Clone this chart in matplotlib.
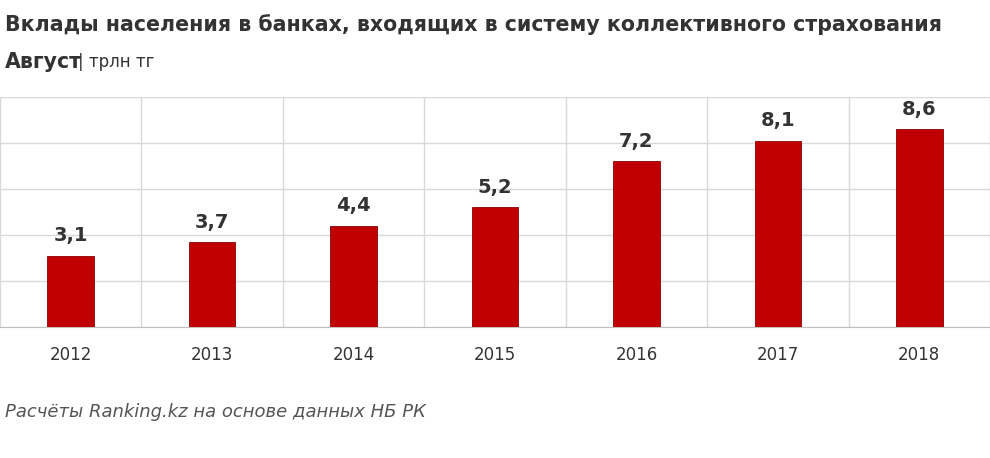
import matplotlib
matplotlib.use("Agg")
import matplotlib.pyplot as plt

years = ["2012", "2013", "2014", "2015", "2016", "2017", "2018"]
values = [3.1, 3.7, 4.4, 5.2, 7.2, 8.1, 8.6]
labels = ["3,1", "3,7", "4,4", "5,2", "7,2", "8,1", "8,6"]

fig = plt.figure(figsize=(9.9, 4.58), dpi=100)
ax = fig.add_axes([0.0, 1 - 327/458, 1.0, 230/458])
x = list(range(len(years)))
ax.bar(x, values, width=0.33, color="#C00000", edgecolor="#8B0000", linewidth=0.6, zorder=3)
for xi, v, l in zip(x, values, labels):
    ax.text(xi, v + 0.45, l, ha="center", va="bottom", fontsize=14, fontweight="bold", color="#333333")
ax.set_xlim(-0.5, len(years) - 0.5)
ax.set_ylim(0, 10)
ax.set_yticks([0, 2, 4, 6, 8, 10])
ax.set_yticklabels([])
ax.tick_params(axis="y", length=0)
ax.set_xticks(x)
ax.set_xticklabels(years, fontsize=12, color="#333333")
ax.tick_params(axis="x", length=0, pad=14)
ax.set_xticks([i + 0.5 for i in range(-1, len(years))], minor=True)
ax.tick_params(axis="x", which="minor", length=0)
ax.grid(axis="y", color="#D9D9D9", linewidth=1, zorder=0)
ax.grid(axis="x", which="minor", color="#D9D9D9", linewidth=1, zorder=0)
for s in ["top", "right", "left"]:
    ax.spines[s].set_visible(False)
ax.spines["bottom"].set_color("#BFBFBF")

fig.text(0.005, 1 - 25/458, "Вклады населения в банках, входящих в систему коллективного страхования",
         fontsize=14.8, fontweight="bold", color="#333333", va="center")
fig.text(0.005, 1 - 62/458, "Август", fontsize=14.8, fontweight="bold", color="#333333", va="center")
fig.text(0.079, 1 - 62/458, "| трлн тг", fontsize=12, color="#333333", va="center")
fig.text(0.005, 1 - 412/458, "Расчёты Ranking.kz на основе данных НБ РК", fontsize=13,
         style="italic", color="#555555", va="center")
fig.savefig("out.png", dpi=100, facecolor="white")
